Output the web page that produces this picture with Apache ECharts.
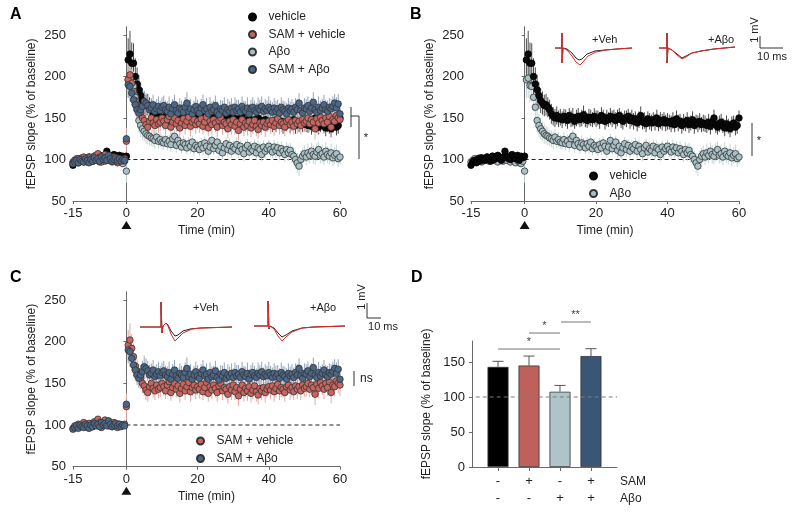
<!DOCTYPE html>
<html><head><meta charset="utf-8">
<script src="https://cdn.jsdelivr.net/npm/echarts@6/dist/echarts.min.js"></script>
<style>html,body{margin:0;padding:0;background:#fff}#c{width:800px;height:516px}</style>
</head><body><div id="c"></div>
<script>
// ---- data (time in min, sampled every 0.5 min from -15 to 60) ----
const timeStart = -15, timeStep = 0.5;
const timeTicks = [-15, 0, 20, 40, 60];
const slopeTicks = [50, 100, 150, 200, 250];
const barTicks = [0, 50, 100, 150];

const vehicle = [93,97,99,96,101,98,102,100,99,103,101,98,104,100,102,105,101,99,103,110,102,104,100,106,103,101,105,99,104,102,
104,
220,227,216,216,200,191,184,177,171,168,165,166,163,160,155,152,150,153,149,151,
148,152,150,147,153,149,151,146,150,152,148,150,154,149,147,151,150,148,152,149,
150,147,153,151,146,150,148,152,149,151,147,150,153,148,146,150,149,152,147,150,
146,149,144,148,153,145,147,143,149,146,144,148,145,150,143,147,145,148,144,146,
145,143,147,142,149,144,146,141,145,143,147,142,144,148,141,145,143,146,142,144,
143,141,145,140,144,150,142,139,143,145,141,138,143,140,137,142,144,139,141,150];
const vehicleErr = [3,3,2,3,3,2,3,3,3,2,3,3,3,2,3,3,3,3,4,4,3,3,3,3,3,3,3,3,3,4,
5,
26,28,25,24,22,20,18,16,15,14,13,13,12,12,12,11,11,11,10,10,
10,9,10,10,9,10,11,9,10,10,9,10,11,10,9,10,10,9,10,10,
9,10,10,9,10,10,9,10,10,9,10,10,9,10,10,9,10,9,10,10,
10,9,10,10,11,9,10,10,9,10,10,9,10,10,9,10,10,9,10,10,
9,10,10,9,10,10,9,10,10,9,10,10,9,10,10,9,10,10,9,10,
10,9,10,10,9,10,10,9,10,10,9,10,10,9,10,10,9,10,10,9];

const abeta = [97,99,101,98,100,102,97,99,101,103,98,100,104,99,101,97,103,100,98,102,99,101,97,100,98,96,99,97,95,98,
86,
196,198,189,188,175,163,147,141,137,134,131,129,128,126,125,123,127,122,124,121,
120,124,119,122,118,125,128,117,123,119,115,120,118,114,119,116,121,113,117,115,
112,118,114,120,116,110,115,123,113,117,121,111,116,108,114,119,112,117,110,115,
113,118,110,116,112,107,114,117,109,113,111,116,108,114,112,106,115,110,113,116,
112,109,115,111,114,108,113,110,106,112,108,111,106,104,100,96,92,100,104,107,
103,108,105,110,106,104,109,112,105,107,103,110,106,104,108,102,105,107,101,103];
const abetaErr = [3,3,3,2,3,3,3,3,2,3,3,3,3,3,2,3,3,3,3,3,3,3,3,3,3,3,4,4,4,5,
14,
22,24,20,18,17,16,15,14,13,12,12,11,11,10,10,10,9,9,9,9,
8,9,8,8,9,8,8,9,8,8,8,9,8,8,8,9,8,8,8,8,
8,8,9,8,8,8,9,8,8,8,8,9,8,8,8,8,9,8,8,8,
8,9,8,8,8,9,8,8,8,9,8,8,8,9,8,8,8,9,8,8,
9,8,9,9,8,9,9,8,9,9,10,9,10,10,11,12,12,11,10,10,
10,11,10,10,11,10,11,10,10,11,10,11,10,10,11,10,10,11,10,9];

const samVehicle = [96,99,97,101,98,100,103,99,97,102,100,98,104,101,107,103,97,100,106,102,99,101,98,103,100,97,101,99,100,101,
122,
196,202,192,182,171,165,160,156,150,147,142,139,146,150,144,141,148,143,145,150,
146,141,148,152,139,145,150,143,147,138,144,149,141,146,151,140,145,148,142,146,
143,149,140,145,151,138,146,142,148,144,139,147,150,141,145,143,137,146,142,148,
140,145,135,143,148,139,144,141,146,138,142,147,140,136,144,141,145,139,143,146,
142,147,140,144,149,141,145,143,139,146,148,142,145,140,147,143,146,141,148,144,
146,150,143,148,145,137,149,144,151,147,143,150,145,152,139,148,146,153,150,148];
const samVehicleErr = [3,3,3,3,3,3,3,3,3,3,3,3,3,3,4,3,3,3,4,3,3,3,3,3,3,3,3,3,3,3,
16,
18,20,17,16,15,14,13,13,12,12,12,11,11,11,11,11,11,11,11,11,
11,10,12,11,10,11,12,10,11,11,10,12,11,10,11,12,10,11,11,10,
11,12,10,11,11,10,12,11,10,11,11,10,12,11,10,11,11,10,12,11,
10,11,12,11,10,11,11,12,10,11,11,10,12,11,10,11,11,12,10,11,
11,10,12,11,10,11,12,10,11,11,10,12,11,10,11,12,10,11,11,10,
12,11,10,12,11,13,11,12,10,11,12,11,10,12,13,11,12,11,12,13];

const samAbeta = [95,97,99,96,100,98,97,101,99,96,100,98,102,99,101,98,103,100,102,99,105,101,98,100,102,99,101,98,100,99,
125,
190,188,180,172,166,160,156,160,164,170,168,165,160,162,166,158,161,164,159,163,
165,160,158,163,155,161,166,159,156,162,160,157,163,168,158,161,155,160,164,159,
156,162,166,159,161,155,163,158,160,165,157,154,161,159,163,156,160,158,162,157,
163,159,161,157,164,160,158,162,155,161,163,159,157,162,160,164,158,161,159,163,
160,157,162,158,161,156,163,160,158,155,162,159,161,157,163,160,168,159,156,162,
161,165,158,162,169,160,157,163,159,162,166,160,158,163,161,164,168,162,167,155];
const samAbetaErr = [3,3,3,3,3,3,3,3,3,3,3,3,3,3,3,3,3,3,3,3,3,3,3,3,3,3,3,3,3,3,
6,
16,18,15,14,13,12,12,12,13,13,12,12,12,12,12,12,12,12,12,12,
12,11,12,13,11,12,12,11,13,12,11,12,12,13,11,12,12,11,12,13,
12,11,12,12,13,11,12,12,11,12,13,12,11,12,12,11,13,12,12,11,
12,13,11,12,12,11,12,13,12,11,12,12,11,13,12,12,11,12,12,13,
11,12,12,13,11,12,12,11,12,13,12,11,12,12,11,13,12,12,11,12,
12,11,13,12,12,11,12,13,12,11,12,12,13,11,12,12,11,13,12,12];

const barGroups = ['vehicle', 'SAM + vehicle', 'Aβo', 'SAM + Aβo'];
const barMeans = [143, 145, 107.5, 158.5];
const barSems = [8, 13.5, 9, 10.5];
const samRow = ['-', '+', '-', '+'];
const abetaRow = ['-', '-', '+', '+'];

// ---- styles ----
const COL = {
  'vehicle':       {fill: '#0a0a0a', err: '#4a4a4a', bar: '#000000'},
  'SAM + vehicle': {fill: '#c9645e', err: '#e2a9a5', bar: '#bf605a'},
  'Aβo':           {fill: '#a9c2c7', err: '#c4d6d9', bar: '#aec4c9'},
  'SAM + Aβo':     {fill: '#4b6787', err: '#93a6ba', bar: '#3a5677'}
};
const SERIES = {
  'vehicle': [vehicle, vehicleErr],
  'SAM + vehicle': [samVehicle, samVehicleErr],
  'Aβo': [abeta, abetaErr],
  'SAM + Aβo': [samAbeta, samAbetaErr]
};
const FONT = '"Liberation Sans", Arial, Helvetica, sans-serif';

const chart = echarts.init(document.getElementById('c'), null, {renderer: 'canvas'});

const grids = [
  {left: 73, top: 26.7, width: 267, height: 174.3},
  {left: 471, top: 26.7, width: 268, height: 174.3},
  {left: 73, top: 291.7, width: 267, height: 175},
  {left: 472, top: 341, width: 145, height: 126}
];

const axisLineStyle = {color: '#6a6a6a', width: 1};
function timeAxis(g) {
  return {
    gridIndex: g, type: 'value', min: -15, max: 60,
    axisLine: {lineStyle: axisLineStyle},
    axisTick: {customValues: timeTicks, length: 3, lineStyle: axisLineStyle},
    axisLabel: {customValues: timeTicks, fontSize: 13, color: '#222', margin: 6, fontFamily: FONT},
    splitLine: {show: false},
    name: 'Time (min)', nameLocation: 'middle', nameGap: 24,
    nameTextStyle: {fontSize: 12, color: '#222', fontFamily: FONT}
  };
}
function slopeAxis(g) {
  return {
    gridIndex: g, type: 'value', min: 50, max: 260,
    axisLine: {show: true, lineStyle: axisLineStyle},
    axisTick: {show: true, customValues: slopeTicks, length: 3, lineStyle: axisLineStyle},
    axisLabel: {customValues: slopeTicks, fontSize: 13, color: '#222', margin: 7, fontFamily: FONT},
    splitLine: {show: false},
    name: 'fEPSP slope (% of baseline)', nameLocation: 'middle', nameGap: 35,
    nameTextStyle: {fontSize: 12, color: '#222', fontFamily: FONT}
  };
}

const xAxes = [timeAxis(0), timeAxis(1), timeAxis(2), {
  gridIndex: 3, type: 'value', min: 0.16, max: 4.84,
  axisLine: {lineStyle: axisLineStyle},
  axisTick: {customValues: [1, 2, 3, 4], length: 4, lineStyle: axisLineStyle},
  axisLabel: {customValues: [1, 2, 3, 4], fontSize: 13, color: '#222', margin: 6, lineHeight: 17, fontFamily: FONT,
    formatter: v => samRow[v - 1] + '\n' + abetaRow[v - 1]},
  splitLine: {show: false}
}];
const yAxes = [slopeAxis(0), slopeAxis(1), slopeAxis(2), {
  gridIndex: 3, type: 'value', min: 0, max: 180,
  axisLine: {show: true, lineStyle: axisLineStyle},
  axisTick: {show: true, customValues: barTicks, length: 3, lineStyle: axisLineStyle},
  axisLabel: {customValues: barTicks, fontSize: 13, color: '#222', margin: 7, fontFamily: FONT},
  splitLine: {show: false},
  name: 'fEPSP slope (% of baseline)', nameLocation: 'middle', nameGap: 39,
  nameTextStyle: {fontSize: 12, color: '#222', fontFamily: FONT}
}];

function toPoints(vals) { return vals.map((v, i) => [timeStart + i * timeStep, v]); }
function toErr(vals, errs) { return vals.map((v, i) => [timeStart + i * timeStep, v - errs[i], v + errs[i]]); }

const series = [];
const panels = [
  {g: 0, names: ['vehicle', 'Aβo', 'SAM + vehicle', 'SAM + Aβo']},
  {g: 1, names: ['Aβo', 'vehicle']},
  {g: 2, names: ['SAM + vehicle', 'SAM + Aβo']}
];
panels.forEach(p => {
  // baseline reference
  series.push({
    type: 'line', xAxisIndex: p.g, yAxisIndex: p.g, silent: true, symbol: 'none', z: 1,
    data: [[0, 100], [60, 100]],
    lineStyle: {color: '#222', width: 1.1, type: [4, 3]}
  });
  p.names.forEach(n => {
    const [vals, errs] = SERIES[n];
    series.push({
      type: 'custom', name: n + ' SEM', xAxisIndex: p.g, yAxisIndex: p.g, silent: true, z: 2,
      data: toErr(vals, errs),
      encode: {x: 0, y: [1, 2]},
      renderItem: (params, api) => {
        const a = api.coord([api.value(0), api.value(1)]);
        const b = api.coord([api.value(0), api.value(2)]);
        return {type: 'line', shape: {x1: a[0], y1: a[1], x2: b[0], y2: b[1]},
          style: {stroke: COL[n].err, lineWidth: 1}};
      }
    });
  });
  p.names.forEach(n => {
    const [vals] = SERIES[n];
    series.push({
      type: 'scatter', name: n, xAxisIndex: p.g, yAxisIndex: p.g, z: 3,
      symbol: 'circle', symbolSize: 6.5, data: toPoints(vals),
      itemStyle: {color: COL[n].fill, borderColor: n === 'vehicle' ? '#000' : '#333', borderWidth: 0.8, opacity: 1}
    });
  });
});

// Panel D
series.push({
  type: 'bar', xAxisIndex: 3, yAxisIndex: 3, barWidth: 21, z: 2, silent: true,
  data: barMeans.map((m, i) => ({value: [i + 1, m], itemStyle: {color: COL[barGroups[i]].bar}})),
  itemStyle: {borderColor: '#333', borderWidth: 0.8}
});
series.push({
  type: 'custom', xAxisIndex: 3, yAxisIndex: 3, silent: true, z: 3,
  data: barMeans.map((m, i) => [i + 1, m, m + barSems[i]]),
  encode: {x: 0, y: [1, 2]},
  renderItem: (params, api) => {
    const a = api.coord([api.value(0), api.value(1)]);
    const b = api.coord([api.value(0), api.value(2)]);
    const st = {stroke: '#555', lineWidth: 1};
    return {type: 'group', children: [
      {type: 'line', shape: {x1: a[0], y1: a[1], x2: b[0], y2: b[1]}, style: st},
      {type: 'line', shape: {x1: b[0] - 5.5, y1: b[1], x2: b[0] + 5.5, y2: b[1]}, style: st}
    ]};
  }
});
series.push({
  type: 'line', xAxisIndex: 3, yAxisIndex: 3, silent: true, symbol: 'none', z: 4,
  data: [[0.28, 100], [4.84, 100]],
  lineStyle: {color: '#7a7a7a', width: 1, type: [4, 3]}
});

function legend(left, top, names) {
  return {
    orient: 'vertical', left: left, top: top, data: names, icon: 'circle', padding: 0,
    itemWidth: 22, itemHeight: 7, itemGap: 3.5, selectedMode: false,
    textStyle: {fontSize: 12, color: '#222', fontFamily: FONT, lineHeight: 14}
  };
}

chart.setOption({
  animation: false,
  backgroundColor: '#fff',
  textStyle: {fontFamily: FONT},
  grid: grids,
  xAxis: xAxes,
  yAxis: yAxes,
  legend: [
    legend(248, 10, ['vehicle', 'SAM + vehicle', 'Aβo', 'SAM + Aβo']),
    legend(589, 169, ['vehicle', 'Aβo']),
    legend(196, 434, ['SAM + vehicle', 'SAM + Aβo'])
  ],
  series: series
});

// ---- annotations ----
const G = [];
function text(x, y, s, o) {
  o = o || {};
  G.push({type: 'text', x: x, y: y, rotation: o.rot || 0, silent: true, z: 10,
    style: {text: s, x: 0, y: 0, fill: o.color || '#222',
      font: (o.weight || 'normal') + ' ' + (o.size || 12) + 'px ' + FONT,
      textAlign: o.align || 'center', align: o.align || 'center',
      textVerticalAlign: 'middle', verticalAlign: 'middle'}});
}
function line(x1, y1, x2, y2, color, w) {
  G.push({type: 'line', silent: true, z: 10, shape: {x1, y1, x2, y2},
    style: {stroke: color || '#333', lineWidth: w || 1}});
}
function trace(ox, oy, pts, color) {
  G.push({type: 'polyline', silent: true, z: 10,
    shape: {points: pts.map(p => [ox + p[0], oy + p[1]])},
    style: {stroke: color, lineWidth: 1, fill: null}});
}
// panel letters
text(10, 15, 'A', {weight: 'bold', size: 16, align: 'left', color: '#000'});
text(410, 15, 'B', {weight: 'bold', size: 16, align: 'left', color: '#000'});
text(10, 278, 'C', {weight: 'bold', size: 16, align: 'left', color: '#000'});
text(411, 278, 'D', {weight: 'bold', size: 16, align: 'left', color: '#000'});

// stimulation triangles at t = 0
[0, 1, 2].forEach(g => {
  const p = chart.convertToPixel({gridIndex: g}, [0, 50]);
  G.push({type: 'polygon', silent: true, z: 10,
    shape: {points: [[p[0] - 5, p[1] + 28], [p[0] + 5, p[1] + 28], [p[0], p[1] + 20]]},
    style: {fill: '#111'}});
});

// significance A
line(351, 107, 351, 127, '#333');
line(351, 116, 359, 116, '#333');
line(359, 116, 359, 159, '#333');
text(366, 138, '*', {size: 11});
// significance B
line(752, 123, 752, 156, '#333');
text(759, 141, '*', {size: 11});
// C ns
line(354, 371, 354, 386, '#333');
text(360, 379, 'ns', {size: 12, align: 'left'});

// insets B
const bVehBlack = [[0,0],[7,0],[7,-15],[7,15],[8,0],[12,1],[17,5],[21,10],[24,12],[27,11],[32,6],[40,3],[50,2],[62,1],[77,0]];
const bVehRed   = [[0,0],[7,0],[7,-15],[7,15],[8,0],[12,2],[17,8],[21,14],[25,17],[28,14],[33,8],[41,4],[51,2],[62,1],[77,0]];
const bAbBlack  = [[0,0],[8,0],[8,-15],[8,15],[9,0],[13,2],[18,6],[23,10],[27,8],[33,5],[42,3],[55,1],[76,-1]];
const bAbRed    = [[0,0],[8,0],[8,-15],[8,15],[9,0],[13,2],[18,7],[23,11],[27,9],[33,5],[42,3],[55,1],[76,-1]];
trace(555, 48, bVehBlack, '#222'); trace(555, 48, bVehRed, '#e02a2a');
trace(659, 48, bAbBlack, '#222'); trace(659, 48, bAbRed, '#e02a2a');
text(592, 40, '+Veh', {size: 11, align: 'left'});
text(708, 40, '+Aβo', {size: 11, align: 'left'});
line(760, 36, 760, 48, '#333'); line(760, 48, 783, 48, '#333');
text(755, 30, '1 mV', {size: 11, rot: Math.PI / 2});
text(772, 57, '10 ms', {size: 11});

// insets C
const cVehBlack = [[0,0],[21,0],[21,-25],[22,6],[23,-1],[26,-4],[28,-2],[31,4],[35,9],[38,8],[43,4],[50,2],[60,1],[92,0]];
const cVehRed   = [[0,0],[21,0],[21,-25],[22,6],[23,-1],[26,-4],[28,-1],[31,7],[35,14],[38,11],[43,6],[52,2],[62,1],[92,0]];
const cAbBlack  = [[0,0],[14,0],[14,-25],[15,3],[16,0],[20,2],[24,7],[28,11],[32,9],[38,5],[48,2],[60,1],[91,0]];
const cAbRed    = [[0,0],[14,0],[14,-25],[15,3],[16,0],[20,3],[24,10],[28,15],[32,11],[38,6],[48,2],[60,1],[91,0]];
trace(140, 327, cVehBlack, '#222'); trace(140, 327, cVehRed, '#e02a2a');
trace(254, 326, cAbBlack, '#222'); trace(254, 326, cAbRed, '#e02a2a');
text(193, 308, '+Veh', {size: 11, align: 'left'});
text(310, 308, '+Aβo', {size: 11, align: 'left'});
line(367, 303, 367, 318, '#333'); line(367, 318, 381, 318, '#333');
text(362, 297, '1 mV', {size: 11, rot: Math.PI / 2});
text(383, 327, '10 ms', {size: 11});

// panel D brackets
function dpx(x, y) { return chart.convertToPixel({gridIndex: 3}, [x, y]); }
const b1 = dpx(1, 0), b2 = dpx(2, 0), b3 = dpx(3, 0), b4 = dpx(4, 0);
line(b1[0], 349, b3[0], 349, '#777');
text((b1[0] + b3[0]) / 2, 342, '*', {size: 11, color: '#444'});
line(b2[0], 333, b3[0], 333, '#777');
text((b2[0] + b3[0]) / 2, 326, '*', {size: 11, color: '#444'});
line(b3[0] + 1, 322, b4[0], 322, '#777');
text((b3[0] + b4[0]) / 2, 315, '**', {size: 11, color: '#444'});
text(620, 482, 'SAM', {size: 12, align: 'left'});
text(620, 499, 'Aβo', {size: 12, align: 'left'});

chart.setOption({graphic: {elements: G}});
</script>
</body></html>
